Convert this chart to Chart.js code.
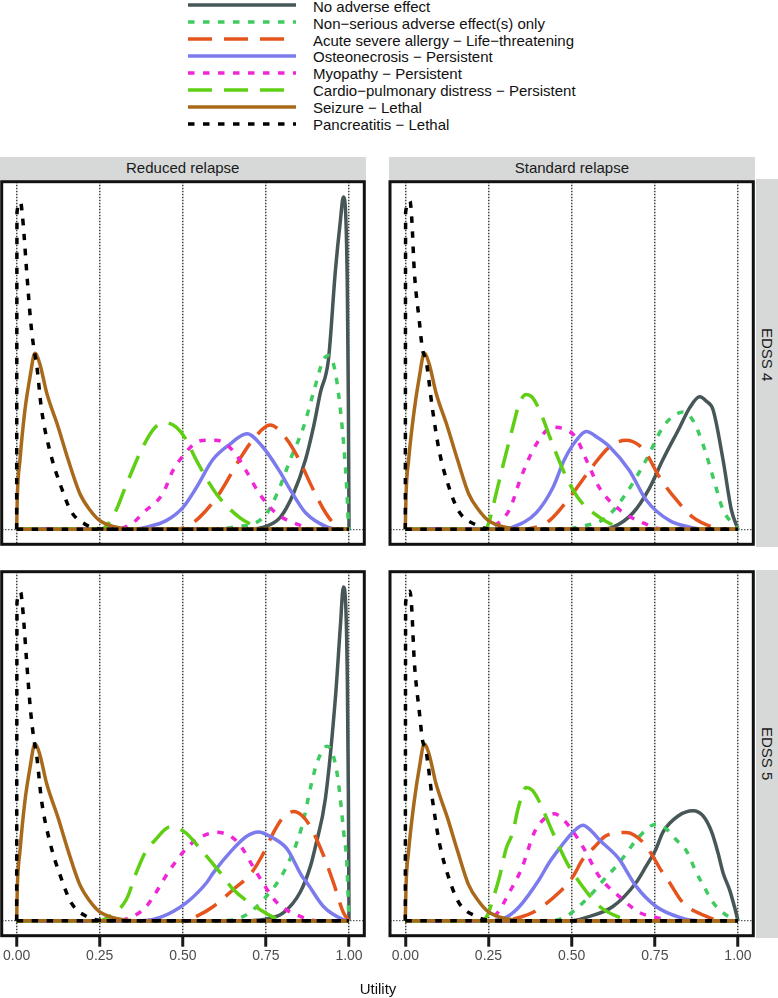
<!DOCTYPE html>
<html>
<head>
<meta charset="utf-8">
<script src="https://cdn.jsdelivr.net/npm/chart.js@4.4.1/dist/chart.umd.min.js"></script>
<style>
  html, body { margin: 0; padding: 0; }
  body { width: 778px; height: 998px; position: relative; overflow: hidden; background: #ffffff;
         font-family: "Liberation Sans", Arial, Helvetica, sans-serif; color: #111; }
  canvas { position: absolute; }
  .strip { position: absolute; background: #d6d9d8; }
  .stripText { position: absolute; font-size: 15px; color: #1a1a1a; text-align: center; white-space: nowrap; }
  .vtext { writing-mode: vertical-rl; }
  .legText { position: absolute; left: 313px; font-size: 15px; line-height: 17px; white-space: nowrap; color: #111; }
  #xtitle { position: absolute; left: 300px; width: 156px; top: 980px; font-size: 15px; line-height: 17px; text-align: center; color: #111; }
</style>
</head>
<body>
<div id="root"></div>
<div id="xtitle">Utility</div>
<script>
// ---------------- DATA ----------------
const seriesNames = [
  "No adverse effect",
  "Non\u2212serious adverse effect(s) only",
  "Acute severe allergy \u2212 Life\u2212threatening",
  "Osteonecrosis \u2212 Persistent",
  "Myopathy \u2212 Persistent",
  "Cardio\u2212pulmonary distress \u2212 Persistent",
  "Seizure \u2212 Lethal",
  "Pancreatitis \u2212 Lethal"
];
const columnLabels = ["Reduced relapse", "Standard relapse"];
const rowLabels = ["EDSS 4", "EDSS 5"];
const xTicks = [0, 0.25, 0.5, 0.75, 1];
const xTickLabels = ["0.00", "0.25", "0.50", "0.75", "1.00"];
const xTitle = "Utility";

// Reduced relapse, EDSS 4
const RR4_noAdverse = [[0,0],[0.70,0],[0.743,0.1],[0.793,0.55],[0.833,1.65],[0.869,3.2],[0.893,4.7],[0.914,6.3],[0.938,7.8],[0.959,11.9],[0.974,14.2],[0.983,15.3],[0.990,14.5],[0.995,11],[0.998,6],[1,0]];
const RR4_nonSerious = [[0,0],[0.60,0],[0.65,0.1],[0.743,0.55],[0.784,1.65],[0.823,3.2],[0.863,4.7],[0.893,6.3],[0.923,7.8],[0.94,8.0],[0.955,7.5],[0.968,6.3],[0.984,3.9],[0.994,1.65],[0.998,0.3],[1,0]];
const RR4_acute = [[0,0],[0.45,0],[0.50,0.05],[0.55,0.55],[0.61,1.65],[0.67,3.2],[0.71,4.1],[0.763,4.8],[0.81,4.2],[0.85,3.2],[0.89,1.9],[0.93,0.75],[0.965,0.1],[0.98,0],[1,0]];
const RR4_osteo = [[0,0],[0.35,0],[0.39,0.1],[0.45,0.4],[0.50,1.0],[0.54,1.9],[0.59,3.2],[0.64,3.9],[0.693,4.4],[0.74,3.8],[0.79,2.7],[0.83,1.65],[0.87,0.75],[0.935,0.1],[0.97,0],[1,0]];
const RR4_myo = [[0,0],[0.30,0],[0.35,0.3],[0.38,0.75],[0.44,1.65],[0.47,2.7],[0.507,3.5],[0.54,4.0],[0.57,4.1],[0.60,4.1],[0.652,3.6],[0.69,2.7],[0.73,1.65],[0.78,0.75],[0.85,0.2],[0.9,0],[1,0]];
const RR4_cardio = [[0,0],[0.25,0],[0.27,0.15],[0.30,0.9],[0.326,1.9],[0.38,3.8],[0.417,4.7],[0.45,4.9],[0.48,4.7],[0.507,4.2],[0.54,3.2],[0.60,1.65],[0.67,0.55],[0.71,0.2],[0.75,0],[1,0]];
const RR4_seizure = [[0,0],[0.002,1.5],[0.01,3.2],[0.025,5.5],[0.04,7.0],[0.055,8.1],[0.07,7.6],[0.09,6.3],[0.125,4.7],[0.155,3.2],[0.19,1.65],[0.22,0.9],[0.25,0.4],[0.30,0.1],[0.35,0],[1,0]];
const RR4_pancreatitis = [[0,0],[0.001,14.6],[0.012,15.05],[0.017,14.5],[0.022,13.6],[0.03,11.9],[0.042,9.6],[0.052,8.3],[0.06,7.6],[0.075,5.5],[0.10,3.6],[0.135,1.9],[0.165,0.8],[0.21,0.2],[0.25,0.02],[0.30,0],[1,0]];

// Standard relapse, EDSS 4
const SR4_noAdverse = [[0,0],[0.58,0],[0.624,0.1],[0.684,0.75],[0.734,1.9],[0.774,3.2],[0.825,4.7],[0.855,5.6],[0.885,6.1],[0.905,5.9],[0.925,5.5],[0.955,3.2],[0.98,0.9],[1,0]];
const SR4_nonSerious = [[0,0],[0.48,0],[0.52,0.1],[0.604,0.55],[0.664,1.65],[0.724,3.2],[0.774,4.7],[0.805,5.2],[0.835,5.4],[0.865,5.0],[0.895,3.9],[0.925,2.4],[0.955,0.9],[0.995,0.1],[1,0]];
const SR4_acute = [[0,0],[0.35,0],[0.393,0.1],[0.433,0.4],[0.503,1.65],[0.563,2.9],[0.614,3.8],[0.664,4.1],[0.70,3.9],[0.724,3.5],[0.764,2.4],[0.815,1.35],[0.865,0.55],[0.925,0.1],[0.96,0],[1,0]];
const SR4_osteo = [[0,0],[0.28,0],[0.323,0.1],[0.393,0.75],[0.443,1.9],[0.478,3.2],[0.514,4.1],[0.544,4.5],[0.58,4.2],[0.614,3.8],[0.674,2.7],[0.724,1.35],[0.794,0.4],[0.855,0.1],[0.9,0],[1,0]];
const SR4_myo = [[0,0],[0.23,0],[0.26,0.1],[0.313,0.9],[0.348,2.4],[0.393,3.9],[0.443,4.7],[0.48,4.6],[0.514,4.2],[0.544,3.2],[0.584,1.9],[0.644,0.9],[0.714,0.3],[0.78,0],[1,0]];
const SR4_cardio = [[0,0],[0.24,0],[0.253,0.4],[0.273,1.65],[0.298,3.2],[0.323,4.7],[0.343,5.8],[0.363,6.2],[0.38,6.1],[0.403,5.5],[0.443,3.9],[0.484,2.4],[0.524,1.35],[0.584,0.55],[0.624,0.2],[0.66,0],[1,0]];
const SR4_seizure = [[0,0],[0.002,1.5],[0.01,3.2],[0.027,5.5],[0.042,7.0],[0.057,8.1],[0.072,7.6],[0.092,6.3],[0.127,4.7],[0.157,3.2],[0.19,1.65],[0.22,0.9],[0.25,0.4],[0.30,0.1],[0.35,0],[1,0]];
const SR4_pancreatitis = [[0,0],[0.001,14.6],[0.014,15.1],[0.019,14.4],[0.027,11.9],[0.042,9.6],[0.052,8.25],[0.062,7.8],[0.082,5.5],[0.102,3.6],[0.132,1.9],[0.162,0.8],[0.213,0.2],[0.25,0.02],[0.30,0],[1,0]];

// Reduced relapse, EDSS 5
const RR5_noAdverse = [[0,0],[0.70,0],[0.743,0.05],[0.803,0.37],[0.853,1.3],[0.884,2.5],[0.899,3.4],[0.929,5.6],[0.959,10.2],[0.974,13.5],[0.983,15.3],[0.990,14.5],[0.995,11],[0.998,6],[1,0]];
const RR5_nonSerious = [[0,0],[0.62,0],[0.683,0.2],[0.743,0.97],[0.806,2.3],[0.858,4.3],[0.888,6.35],[0.905,7.3],[0.934,8.0],[0.952,7.6],[0.968,6.35],[0.984,4.05],[0.994,2.5],[0.998,0.8],[1,0]];
const RR5_acute = [[0,0],[0.50,0],[0.541,0.2],[0.592,0.65],[0.652,1.43],[0.707,2.2],[0.743,3.1],[0.773,4.05],[0.80,4.7],[0.833,5.0],[0.86,4.8],[0.884,4.3],[0.923,3.0],[0.953,1.75],[0.983,0.37],[1,0]];
const RR5_osteo = [[0,0],[0.38,0],[0.432,0.15],[0.511,0.83],[0.572,1.75],[0.592,2.2],[0.652,3.3],[0.69,3.85],[0.727,4.07],[0.77,3.8],[0.813,3.3],[0.858,2.05],[0.873,1.75],[0.923,0.65],[0.983,0.05],[1,0]];
const RR5_myo = [[0,0],[0.30,0],[0.35,0.2],[0.39,0.65],[0.462,2.35],[0.51,3.3],[0.55,3.8],[0.602,4.05],[0.64,3.9],[0.673,3.45],[0.718,2.3],[0.783,0.83],[0.853,0.2],[0.9,0],[1,0]];
const RR5_cardio = [[0,0],[0.25,0],[0.28,0.2],[0.33,0.97],[0.36,2.2],[0.386,3.1],[0.417,3.7],[0.462,4.3],[0.507,4.05],[0.552,3.3],[0.61,2.25],[0.652,1.43],[0.733,0.5],[0.773,0.15],[0.8,0],[1,0]];
const RR5_seizure = [[0,0],[0.002,1.5],[0.01,3.2],[0.025,5.5],[0.04,7.0],[0.055,8.1],[0.07,7.6],[0.09,6.3],[0.125,4.7],[0.155,3.2],[0.19,1.65],[0.22,0.9],[0.25,0.4],[0.30,0.1],[0.35,0],[1,0]];
const RR5_pancreatitis = [[0,0],[0.001,14.6],[0.012,15.05],[0.017,14.5],[0.022,13.6],[0.03,11.9],[0.042,9.6],[0.052,8.3],[0.06,7.6],[0.075,5.5],[0.10,3.6],[0.135,1.9],[0.165,0.8],[0.21,0.2],[0.25,0.02],[0.30,0],[1,0]];

// Standard relapse, EDSS 5
const SR5_noAdverse = [[0,0],[0.50,0],[0.544,0.15],[0.624,0.65],[0.694,1.75],[0.724,2.5],[0.754,3.3],[0.774,4.05],[0.82,4.8],[0.865,5.04],[0.895,4.8],[0.92,4.1],[0.94,3.1],[0.955,2.2],[0.975,1.4],[0.99,0.6],[1,0]];
const SR5_nonSerious = [[0,0],[0.44,0],[0.484,0.2],[0.544,0.97],[0.604,2.0],[0.64,2.6],[0.67,3.2],[0.694,3.7],[0.754,4.42],[0.785,4.2],[0.815,3.7],[0.845,3.2],[0.875,2.2],[0.90,1.5],[0.925,0.83],[0.975,0.15],[1,0]];
const SR5_acute = [[0,0],[0.30,0],[0.343,0.15],[0.383,0.37],[0.463,1.3],[0.503,2.0],[0.533,2.8],[0.57,3.4],[0.604,3.9],[0.664,4.04],[0.714,3.6],[0.744,2.95],[0.765,2.4],[0.794,1.75],[0.834,0.83],[0.905,0.2],[0.95,0],[1,0]];
const SR5_osteo = [[0,0],[0.26,0],[0.303,0.15],[0.343,0.65],[0.403,1.9],[0.43,2.6],[0.463,3.3],[0.50,4.0],[0.534,4.38],[0.56,4.1],[0.584,3.7],[0.644,2.8],[0.664,2.3],[0.694,1.57],[0.754,0.65],[0.825,0.15],[0.88,0],[1,0]];
const SR5_myo = [[0,0],[0.23,0],[0.273,0.28],[0.313,1.3],[0.35,2.4],[0.388,4.05],[0.42,4.7],[0.448,4.9],[0.47,4.7],[0.494,4.3],[0.537,3.3],[0.584,2.0],[0.644,1.1],[0.704,0.37],[0.754,0.15],[0.8,0],[1,0]];
const SR5_cardio = [[0,0],[0.23,0],[0.248,0.28],[0.263,0.97],[0.283,2.0],[0.303,3.3],[0.323,4.05],[0.34,5.2],[0.363,6.1],[0.38,6.0],[0.398,5.6],[0.443,4.05],[0.486,2.65],[0.524,1.75],[0.584,0.65],[0.644,0.15],[0.68,0],[1,0]];
const SR5_seizure = [[0,0],[0.002,1.5],[0.01,3.2],[0.027,5.5],[0.042,7.0],[0.057,8.1],[0.072,7.6],[0.092,6.3],[0.127,4.7],[0.157,3.2],[0.19,1.65],[0.22,0.9],[0.25,0.4],[0.30,0.1],[0.35,0],[1,0]];
const SR5_pancreatitis = [[0,0],[0.001,14.6],[0.014,15.1],[0.019,14.4],[0.027,11.9],[0.042,9.6],[0.052,8.25],[0.062,7.8],[0.082,5.5],[0.102,3.6],[0.132,1.9],[0.162,0.8],[0.213,0.2],[0.25,0.02],[0.30,0],[1,0]];

// ---------------- STYLE / LAYOUT ----------------
const seriesStyles = [
  { color: "#475657", dash: [] },
  { color: "#3fcb60", dash: [6.5, 8.5] },
  { color: "#e4541c", dash: [24, 12] },
  { color: "#7b7bee", dash: [] },
  { color: "#f026d6", dash: [6.5, 8.5] },
  { color: "#5fcf14", dash: [24, 12] },
  { color: "#a86a1a", dash: [] },
  { color: "#000000", dash: [6.5, 8.5] }
];

const panels = [
  { col: 0, row: 0, series: [RR4_noAdverse, RR4_nonSerious, RR4_acute, RR4_osteo, RR4_myo, RR4_cardio, RR4_seizure, RR4_pancreatitis] },
  { col: 1, row: 0, series: [SR4_noAdverse, SR4_nonSerious, SR4_acute, SR4_osteo, SR4_myo, SR4_cardio, SR4_seizure, SR4_pancreatitis] },
  { col: 0, row: 1, series: [RR5_noAdverse, RR5_nonSerious, RR5_acute, RR5_osteo, RR5_myo, RR5_cardio, RR5_seizure, RR5_pancreatitis] },
  { col: 1, row: 1, series: [SR5_noAdverse, SR5_nonSerious, SR5_acute, SR5_osteo, SR5_myo, SR5_cardio, SR5_seizure, SR5_pancreatitis] }
];

const colGeom = [
  { L: 1.7, R: 364.3, xmin: -0.045, xmax: 1.046 },
  { L: 390.0, R: 753.3, xmin: -0.046, xmax: 1.046 }
];
const rowGeom = [
  { T: 181.7, B: 544.3 },
  { T: 571.7, B: 935.7 }
];
const yRange = [-0.69, 16.0];

const root = document.getElementById("root");

// ---- Legend (HTML, real text) ----
const svgNS = "http://www.w3.org/2000/svg";
seriesNames.forEach((name, i) => {
  const lineY = 5.3 + 16.9 * i;
  const svg = document.createElementNS(svgNS, "svg");
  svg.setAttribute("width", "120");
  svg.setAttribute("height", "10");
  svg.style.position = "absolute";
  svg.style.left = "186px";
  svg.style.top = (lineY - 5) + "px";
  const ln = document.createElementNS(svgNS, "line");
  ln.setAttribute("x1", "2"); ln.setAttribute("x2", "110");
  ln.setAttribute("y1", "5"); ln.setAttribute("y2", "5");
  ln.setAttribute("stroke", seriesStyles[i].color);
  ln.setAttribute("stroke-width", "3.5");
  if (seriesStyles[i].dash.length) ln.setAttribute("stroke-dasharray", seriesStyles[i].dash.join(" "));
  svg.appendChild(ln);
  root.appendChild(svg);
  const t = document.createElement("div");
  t.className = "legText";
  t.style.top = (-2.2 + 16.85 * i) + "px";
  t.textContent = name;
  root.appendChild(t);
});

// ---- Strips ----
function addDiv(cls, css, text) {
  const d = document.createElement("div");
  d.className = cls;
  Object.assign(d.style, css);
  if (text) d.textContent = text;
  root.appendChild(d);
  return d;
}
addDiv("strip", { left: "0px", top: "156.5px", width: "365.5px", height: "23.5px" });
addDiv("strip", { left: "388.8px", top: "156.5px", width: "366.2px", height: "23.5px" });
addDiv("stripText", { left: "0px", top: "156px", width: "365.5px", height: "23px", lineHeight: "23px" }, columnLabels[0]);
addDiv("stripText", { left: "388.8px", top: "156px", width: "366.2px", height: "23px", lineHeight: "23px" }, columnLabels[1]);
addDiv("strip", { left: "755.5px", top: "178.5px", width: "23px", height: "368px" });
addDiv("strip", { left: "755.5px", top: "570px", width: "23px", height: "368px" });
addDiv("stripText vtext", { left: "755.5px", top: "178.5px", width: "22px", height: "353px", lineHeight: "22px" }, rowLabels[0]);
addDiv("stripText vtext", { left: "755.5px", top: "570px", width: "22px", height: "368px", lineHeight: "22px" }, rowLabels[1]);

document.getElementById("xtitle").textContent = xTitle;

// ---- Panel border plugin ----
const panelBorder = {
  id: "panelBorder",
  afterDraw(chart) {
    const a = chart.chartArea, ctx = chart.ctx;
    ctx.save();
    ctx.strokeStyle = "#111111";
    ctx.lineWidth = 3;
    ctx.setLineDash([]);
    ctx.strokeRect(a.left, a.top, a.right - a.left, a.bottom - a.top);
    ctx.restore();
  }
};

// ---- Charts ----
panels.forEach((p) => {
  const cg = colGeom[p.col], rg = rowGeom[p.row];
  const isBottom = p.row === 1;
  const axisH = isBottom ? 40 : 0;
  const cl = Math.floor(cg.L) - 12, ct = Math.floor(rg.T) - 12;
  const cw = Math.ceil(cg.R) + 12 - cl;
  const ch = Math.ceil(rg.B) + (isBottom ? 52 : 12) - ct;
  const canvas = document.createElement("canvas");
  canvas.width = cw; canvas.height = ch;
  canvas.style.left = cl + "px"; canvas.style.top = ct + "px";
  canvas.style.width = cw + "px"; canvas.style.height = ch + "px";
  root.appendChild(canvas);

  const datasets = [];
  p.series.forEach((s, i) => {
    // density curve
    datasets.push({
      label: seriesNames[i],
      data: s.map(pt => ({ x: pt[0], y: pt[1] })),
      borderColor: seriesStyles[i].color,
      borderDash: seriesStyles[i].dash,
      borderWidth: 3.5,
      pointRadius: 0,
      fill: false,
      cubicInterpolationMode: "monotone",
      order: 7 - i
    });
    // bottom edge of the density outline (from the first to the last x of the series)
    datasets.push({
      label: seriesNames[i] + " base",
      data: [{ x: s[0][0], y: 0 }, { x: s[s.length - 1][0], y: 0 }],
      borderColor: seriesStyles[i].color,
      borderDash: seriesStyles[i].dash,
      borderWidth: 3.5,
      pointRadius: 0,
      fill: false,
      tension: 0,
      order: 7 - i + 0.1
    });
  });

  new Chart(canvas, {
    type: "line",
    data: { datasets },
    options: {
      responsive: false,
      animation: false,
      devicePixelRatio: 1,
      events: [],
      parsing: false,
      normalized: true,
      layout: {
        padding: {
          left: cg.L - cl,
          top: rg.T - ct,
          right: cl + cw - cg.R,
          bottom: ct + ch - rg.B - axisH
        }
      },
      plugins: { legend: { display: false }, tooltip: { enabled: false }, title: { display: false } },
      scales: {
        x: {
          type: "linear",
          min: cg.xmin, max: cg.xmax,
          afterBuildTicks: s => { s.ticks = xTicks.map(v => ({ value: v })); },
          afterFit: s => { s.height = axisH; },
          grid: {
            color: "#3c4242", lineWidth: 1.5, borderDash: [1.5, 1.5],
            drawTicks: isBottom, tickLength: 11, tickColor: "#1a1a1a", tickWidth: 3, tickBorderDash: []
          },
          border: { display: false, dash: [1.5, 1.5] },
          ticks: {
            display: isBottom, padding: 1, color: "#4d4d4d", maxRotation: 0, minRotation: 0, autoSkip: false,
            font: { family: "Liberation Sans", size: 14 },
            callback: v => { const j = xTicks.indexOf(v); return j >= 0 ? xTickLabels[j] : ""; }
          }
        },
        y: {
          type: "linear",
          min: yRange[0], max: yRange[1],
          afterBuildTicks: s => { s.ticks = [{ value: 0 }]; },
          afterFit: s => { s.width = 0; },
          grid: { color: "#5a6060", lineWidth: 1.3, borderDash: [1.5, 1.5], drawTicks: false },
          border: { display: false, dash: [1.5, 1.5] },
          ticks: { display: false }
        }
      }
    },
    plugins: [panelBorder]
  });
});
</script>
</body>
</html>
